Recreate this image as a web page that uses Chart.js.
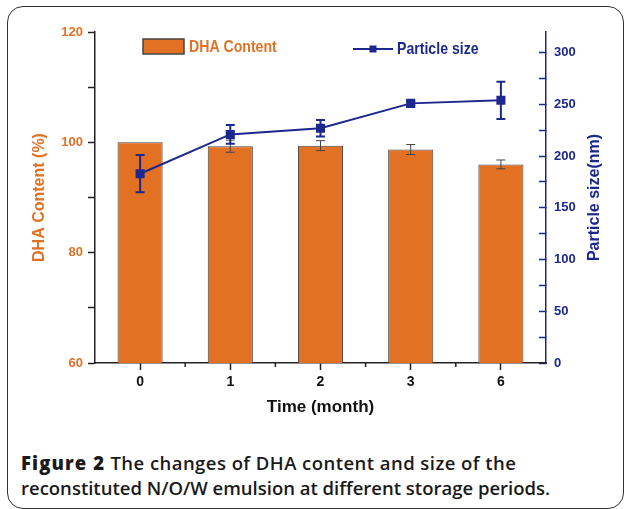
<!DOCTYPE html>
<html>
<head>
<meta charset="utf-8">
<script src="https://cdn.jsdelivr.net/npm/chart.js@4.4.1/dist/chart.umd.min.js"></script>
<style>
    body { margin: 0; background: #fff; overflow: hidden; width: 624px; height: 509px; position: relative; }
    #frame {
        position: absolute; left: 7px; top: 6px; width: 617px; height: 503px;
        box-sizing: border-box; border: 1.5px solid #333; border-radius: 16px;
    }
    #stats { position: absolute; left: 0; top: 0; }
    #caption {
        position: absolute; left: 21px; top: 450px; white-space: nowrap;
        font-family: 'Open Sans', 'Noto Sans', sans-serif; font-size: 18.5px; line-height: 25px;
        font-weight: 600; color: #1a1a1a;
    }
    #caption b { font-weight: 800; letter-spacing: 1.1px; }
    #caption .first { letter-spacing: 0.45px; }
</style>
</head>
<body>
<div id="frame"></div>
<canvas id="stats" width="624" height="430"></canvas>
<div id="caption"><b>Figure 2</b><span class="first"> The changes of DHA content and size of the</span><br>reconstituted N/O/W emulsion at different storage periods.</div>
<script>
const months = ['0', '1', '2', '3', '6'];
const dhaContent = [100, 99.3, 99.4, 98.7, 96.0];
const dhaError = [0, 1.1, 0.9, 0.9, 0.8];
const particleSize = [183, 221, 227, 251, 254];
const particleError = [18, 9, 8, 2, 18];

const orange = 'rgb(226, 113, 36)';
const navy = 'rgb(28, 40, 140)';
const plainFont = "'Liberation Sans', Arial, sans-serif";

const ctx = document.getElementById('stats').getContext('2d');

function errorBar(c, px, top, bot, half) {
    c.beginPath();
    c.moveTo(px, top); c.lineTo(px, bot);
    c.moveTo(px - half, top); c.lineTo(px + half, top);
    c.moveTo(px - half, bot); c.lineTo(px + half, bot);
    c.stroke();
}

// narrow legend text, like the squeezed font of the original
function narrowText(c, text, x, y) {
    c.save();
    c.translate(x, y);
    c.scale(0.83, 1);
    c.fillText(text, 0, 0);
    c.restore();
}

// error bars, short ticks between months, legend and right title are drawn by hand
const extras = {
    id: 'extras',
    afterDatasetDraw(chart, args) {
        if (args.index !== 0) return;
        const c = chart.ctx;
        const x = chart.scales.x;
        const y = chart.scales.y;
        c.save();
        c.strokeStyle = '#444';
        c.lineWidth = 1;
        dhaContent.forEach((v, i) => {
            if (!dhaError[i]) return;
            errorBar(c, x.getPixelForValue(i),
                y.getPixelForValue(v + dhaError[i]),
                y.getPixelForValue(v - dhaError[i]), 4.5);
        });
        c.restore();
    },
    beforeDatasetDraw(chart, args) {
        if (args.index !== 1) return;
        const c = chart.ctx;
        const x = chart.scales.x;
        const y1 = chart.scales.y1;
        c.save();
        c.strokeStyle = navy;
        c.lineWidth = 2;
        particleSize.forEach((v, i) => {
            errorBar(c, x.getPixelForValue(i),
                y1.getPixelForValue(v + particleError[i]),
                y1.getPixelForValue(v - particleError[i]), 4.5);
        });
        c.restore();
    },
    afterDraw(chart) {
        const c = chart.ctx;
        const x = chart.scales.x;
        const y1 = chart.scales.y1;
        const area = chart.chartArea;
        c.save();
        c.strokeStyle = '#222';
        c.lineWidth = 1.5;
        for (let i = 0; i < months.length - 1; i++) {
            const px = (x.getPixelForValue(i) + x.getPixelForValue(i + 1)) / 2;
            c.beginPath();
            c.moveTo(px, area.bottom);
            c.lineTo(px, area.bottom + 4);
            c.stroke();
        }

        // legend
        const ds = chart.data.datasets;
        c.fillStyle = orange;
        c.strokeStyle = '#444';
        c.lineWidth = 1.5;
        c.fillRect(143, 39, 41, 15);
        c.strokeRect(143, 39, 41, 15);
        c.font = 'bold 17px ' + plainFont;
        c.textBaseline = 'middle';
        narrowText(c, ds[0].label, 189, 47);

        c.strokeStyle = navy;
        c.lineWidth = 2;
        c.beginPath();
        c.moveTo(353, 49); c.lineTo(393, 49);
        c.stroke();
        c.fillStyle = navy;
        c.fillRect(369.5, 45.5, 7, 7);
        narrowText(c, ds[1].label, 397, 49);

        // right axis title, read from bottom to top
        c.translate(y1.right - 29, (y1.top + y1.bottom) / 2);
        c.rotate(-Math.PI / 2);
        c.textAlign = 'center';
        c.font = 'bold 16px ' + plainFont;
        c.fillText(y1.options.title.text, 0, 0);
        c.restore();
    }
};

const data = {
    labels: months,
    datasets: [{
        type: 'bar',
        label: 'DHA Content',
        data: dhaContent,
        yAxisID: 'y',
        order: 1,
        backgroundColor: orange,
        borderColor: '#444',
        borderWidth: 1,
        barPercentage: 0.5,
        categoryPercentage: 1.0
    }, {
        type: 'line',
        label: 'Particle size',
        data: particleSize,
        yAxisID: 'y1',
        order: 0,
        borderColor: navy,
        borderWidth: 2,
        pointStyle: 'rect',
        pointRadius: 6.4,
        pointBackgroundColor: navy,
        pointBorderColor: navy,
        pointBorderWidth: 0
    }]
};

const config = {
    type: 'bar',
    data: data,
    options: {
        responsive: false,
        animation: false,
        layout: {
            padding: { top: 32, left: 0, right: 0, bottom: 0 }
        },
        plugins: {
            legend: { display: false },
            tooltip: { enabled: false }
        },
        scales: {
            x: {
                offset: true,
                grid: {
                    drawOnChartArea: false,
                    offset: false,
                    tickLength: 7,
                    tickWidth: 1.5,
                    tickColor: '#222'
                },
                border: { color: '#222', width: 1.5 },
                ticks: {
                    color: '#111',
                    padding: 4,
                    font: { family: plainFont, size: 14, weight: 'bold' }
                },
                title: {
                    display: true,
                    text: 'Time (month)',
                    color: '#111',
                    padding: { top: 0, bottom: 12.8 },
                    font: { family: plainFont, size: 17, weight: 'bold' }
                },
                afterFit(scale) { scale.height = 67; }
            },
            y: {
                position: 'left',
                min: 60,
                max: 120,
                grid: {
                    drawOnChartArea: false,
                    tickLength: 7,
                    tickWidth: 1.5,
                    tickColor: '#222'
                },
                border: { color: '#222', width: 1.5 },
                ticks: {
                    stepSize: 10,
                    color: orange,
                    padding: 5,
                    font: { family: plainFont, size: 13, weight: 'bold' },
                    callback: (v) => (v % 20 === 0 ? v : '')
                },
                title: {
                    display: true,
                    text: 'DHA Content (%)',
                    color: orange,
                    padding: { top: 30.4, bottom: 0 },
                    font: { family: plainFont, size: 16, weight: 'bold' }
                },
                afterFit(scale) { scale.width = 95; }
            },
            y1: {
                position: 'right',
                min: 0,
                max: 320,
                grid: {
                    drawOnChartArea: false,
                    tickLength: -7,
                    tickWidth: 1.5,
                    tickColor: navy
                },
                border: { color: navy, width: 1.5 },
                ticks: {
                    stepSize: 25,
                    includeBounds: false,
                    color: navy,
                    padding: 15,
                    font: { family: plainFont, size: 13, weight: 'bold' },
                    callback: (v) => (v % 50 === 0 ? v : '')
                },
                title: {
                    display: false,
                    text: 'Particle size(nm)'
                },
                afterFit(scale) { scale.width = 78; }
            }
        }
    },
    plugins: [extras]
};

new Chart(ctx, config);
</script>
</body>
</html>
